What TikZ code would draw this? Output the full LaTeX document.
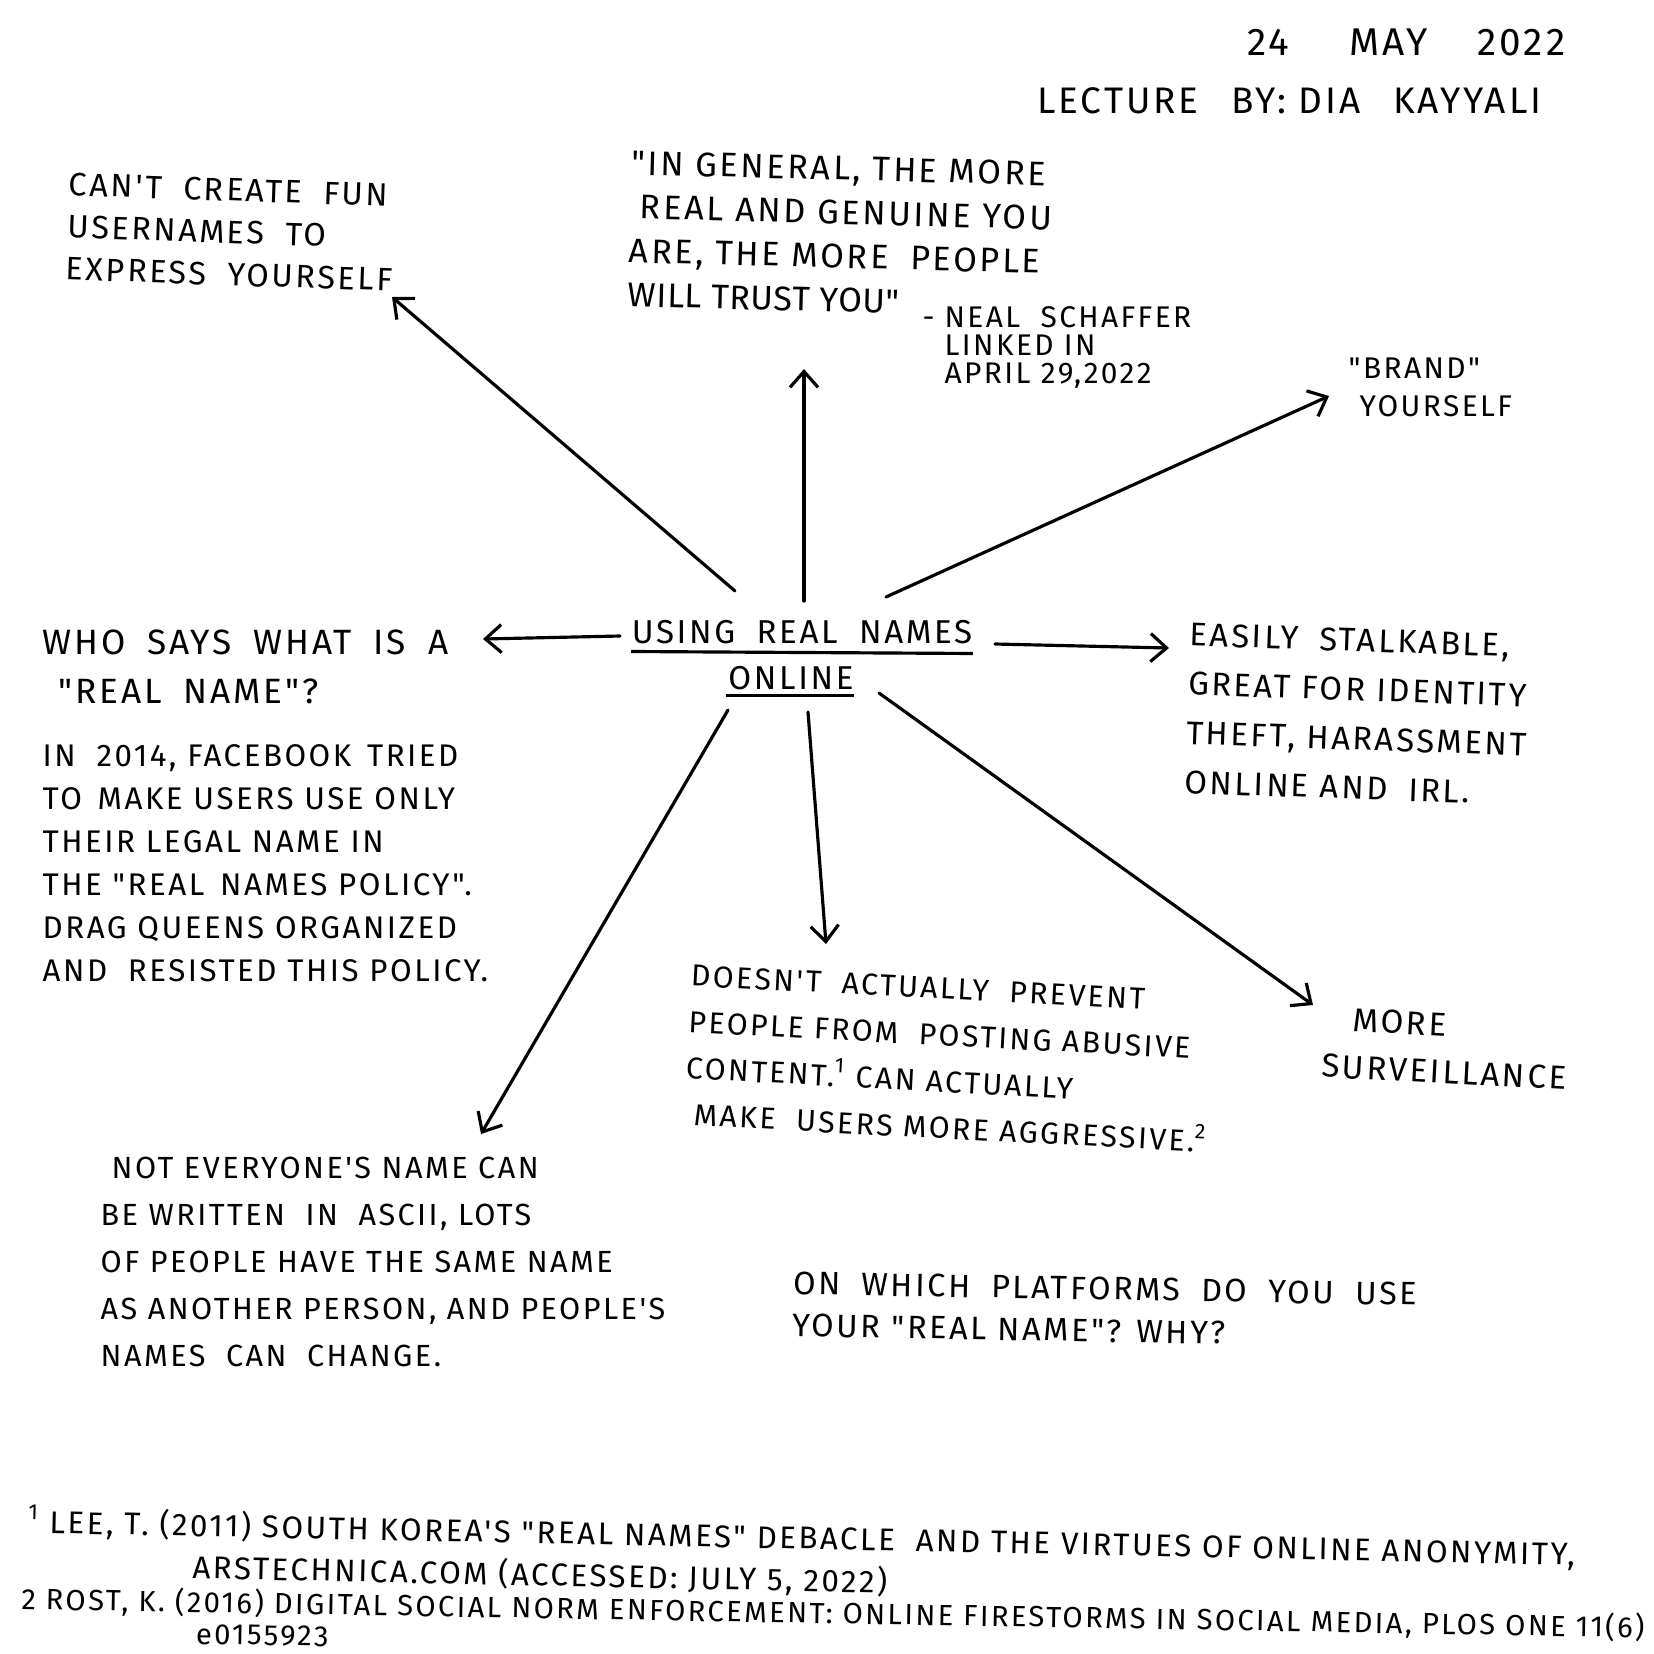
\documentclass[tikz,border=0pt]{standalone}
\usepackage{fontspec}
\setmainfont{Fira Sans}[LetterSpace=8, Ligatures=TeXOff]
\usetikzlibrary{arrows.meta, calc, positioning}

\begin{document}
\begin{tikzpicture}[x=0.01cm, y=-0.01cm,
  note/.style={anchor=north west, inner sep=0pt, align=left},
  arr/.style={-{Straight Barb[length=1.6mm, width=2.8mm]}, line width=0.9pt, line cap=round}]
\useasboundingbox[fill=white] (0,0) rectangle (1654,1654);

% header
\node[anchor=base east, inner sep=0pt, font=\fontsize{11}{13}\selectfont] (date) at (1566,55) {24\hspace{6mm}MAY\hspace{5mm}2022};
\node[anchor=base east, inner sep=0pt, font=\fontsize{10.5}{13}\selectfont] (lecture) at (1542,113) {LECTURE\hspace{2mm} BY: DIA\hspace{2mm} KAYYALI};

% centre topic
\node[inner sep=0pt, font=\fontsize{9.4}{12}\selectfont] (hubA) at (802,632) {USING\hspace{1mm} REAL\hspace{1mm} NAMES};
\node[inner sep=0pt, font=\fontsize{9.4}{12}\selectfont] (hubB) at (791,678) {ONLINE};
\draw[line width=0.9pt] ($(hubA.south west)+(0,7)$) -- ($(hubA.south east)+(0,9)$);
\draw[line width=0.9pt] ($(hubB.south west)+(-2,5)$) -- ($(hubB.south east)+(0,5)$);

% branches
\node[note, rotate=-2, font=\fontsize{9.2}{12}\selectfont] (fun) at (69,172) {CAN'T\hspace{1mm} CREATE\hspace{1mm} FUN\\USERNAMES\hspace{1mm} TO\\EXPRESS\hspace{1mm} YOURSELF};
\node[note, rotate=-1.5, font=\fontsize{9.7}{12.5}\selectfont] (quote) at (631,150) {"IN GENERAL, THE MORE\\\hspace{0.1cm}REAL AND GENUINE YOU\\ARE, THE MORE\hspace{1mm} PEOPLE\\{\addfontfeature{LetterSpace=2}WILL TRUST YOU"}};
\node[note, font=\fontsize{8.5}{8}\selectfont] (attrib) at (944,306) {\llap{-\hspace{1mm}}NEAL\hspace{1mm} SCHAFFER\\LINKED IN\\APRIL 29,2022};
\node[note, font=\fontsize{8.5}{11}\selectfont] (brand) at (1348,357) {"BRAND"\\\hspace{0.11cm}YOURSELF};
\node[note, font=\fontsize{10}{14}\selectfont] (whosays) at (42,629) {WHO\hspace{1mm} SAYS\hspace{1mm} WHAT\hspace{1mm} IS\hspace{1mm} A\\\hspace{0.16cm}"REAL\hspace{1mm} NAME"?};
\node[note, font=\fontsize{8.9}{12.2}\selectfont] (facebook) at (42,744) {IN\hspace{1mm} 2014, FACEBOOK\hspace{0.5mm} TRIED\\TO\hspace{0.5mm} MAKE USERS USE ONLY\\THEIR LEGAL NAME IN\\THE "REAL\hspace{0.5mm} NAMES POLICY".\\DRAG QUEENS ORGANIZED\\AND\hspace{1mm} RESISTED THIS POLICY.};
\node[note, rotate=-2, font=\fontsize{9.3}{14}\selectfont] (easily) at (1190,622) {EASILY\hspace{1mm} STALKABLE,\\GREAT FOR IDENTITY\\THEFT, HARASSMENT\\ONLINE AND\hspace{1mm} IRL.};
\node[note, rotate=-3, font=\fontsize{8.6}{13.2}\selectfont] (abuse) at (691,964) {DOESN'T\hspace{1mm} ACTUALLY\hspace{1mm} PREVENT\\PEOPLE FROM\hspace{1mm} POSTING ABUSIVE\\CONTENT.\textsuperscript{1} CAN ACTUALLY\\\hspace{0.1cm}MAKE\hspace{1mm} USERS MORE AGGRESSIVE.\textsuperscript{2}};
\node[note, rotate=-3, font=\fontsize{9.4}{13.4}\selectfont] (surv) at (1324,1006) {\hspace{0.29cm}MORE\\SURVEILLANCE};
\node[note, font=\fontsize{8.7}{13.4}\selectfont] (ascii) at (100,1156) {\hspace{0.11cm}NOT EVERYONE'S NAME CAN\\BE WRITTEN\hspace{1mm} IN\hspace{1mm} ASCII, LOTS\\OF PEOPLE HAVE THE SAME NAME\\AS ANOTHER PERSON, AND PEOPLE'S\\NAMES\hspace{1mm} CAN\hspace{1mm} CHANGE.};
\node[note, rotate=-1, font=\fontsize{9.2}{12}\selectfont] (question) at (793,1271) {ON\hspace{1mm} WHICH\hspace{1mm} PLATFORMS\hspace{1mm} DO\hspace{1mm} YOU\hspace{1mm} USE\\YOUR "REAL NAME"? WHY?};

% references
\node[note, rotate=-1.2, font=\fontsize{8.9}{12}\selectfont] (refA) at (28,1504) {\textsuperscript{1}\hspace{1mm}LEE, T. (2011) SOUTH KOREA'S "REAL NAMES" DEBACLE\hspace{1mm} AND THE VIRTUES OF ONLINE ANONYMITY,\\\hspace{1.65cm}ARSTECHNICA.COM (ACCESSED: JULY 5, 2022)};
\node[note, rotate=-1, font=\fontsize{8.3}{9}\selectfont] (refB) at (21,1584) {2 ROST, K. (2016) DIGITAL SOCIAL NORM ENFORCEMENT: ONLINE FIRESTORMS IN SOCIAL MEDIA, PLOS ONE 11(6)\\\hspace{1.75cm}e0155923};

% arrow ends
\coordinate (tipFun) at (392,297);
\coordinate (tipQuote) at (804,369);
\coordinate (tipBrand) at (1329,396);
\coordinate (tipWho) at (483,639);
\coordinate (tipEasy) at (1169,648);
\coordinate (tipSurv) at (1313,1005);
\coordinate (tipAbuse) at (826,944);
\coordinate (tipAscii) at (481,1134);

\draw[arr] ($(hubA)+(-67,-41)$) -- (tipFun);
\draw[arr] ($(hubA)+(2,-31)$) -- (tipQuote);
\draw[arr] ($(hubA)+(84,-35)$) -- (tipBrand);
\draw[arr] ($(hubA)+(-182,4)$) -- (tipWho);
\draw[arr] ($(hubA)+(193,12)$) -- (tipEasy);
\draw[arr] ($(hubB)+(88,15)$) -- (tipSurv);
\draw[arr] ($(hubB)+(17,34)$) -- (tipAbuse);
\draw[arr] ($(hubB)+(-63,32)$) -- (tipAscii);
\end{tikzpicture}
\end{document}
